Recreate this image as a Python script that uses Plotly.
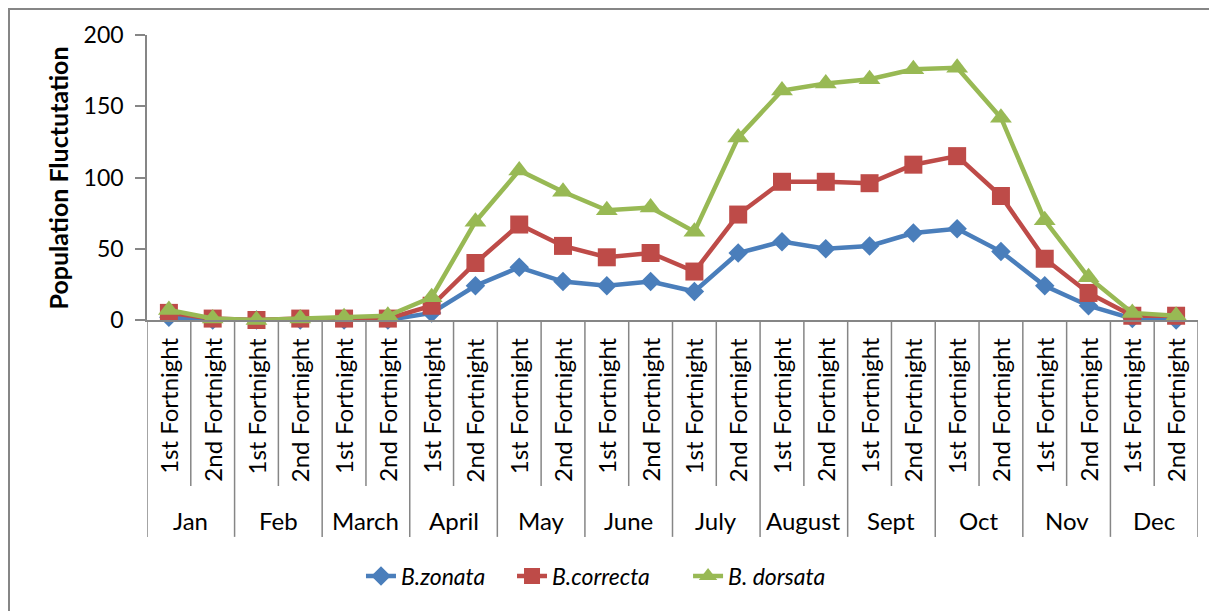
import plotly.graph_objects as go

months = ["Jan", "Feb", "March", "April", "May", "June", "July", "August", "Sept", "Oct", "Nov", "Dec"]
fortnights = ["1st Fortnight", "2nd Fortnight"]

b_zonata = [2, 0, 0, 0, 0, 0, 5, 24, 37, 27, 24, 27, 20, 47, 55, 50, 52, 61, 64, 48, 24, 10, 1, 0]
b_correcta = [5, 1, 0, 1, 1, 1, 10, 40, 67, 52, 44, 47, 34, 74, 97, 97, 96, 109, 115, 87, 43, 19, 3, 3]
b_dorsata = [7, 1, 0, 1, 2, 3, 16, 69, 105, 90, 77, 79, 62, 128, 161, 166, 169, 176, 177, 142, 70, 30, 5, 3]

cats = [f"{m} {f}" for m in months for f in fortnights]
n = len(cats)

FONT = "Lato, Open Sans, sans-serif"
AXC = "#868686"

fig = go.Figure()
series = [
    ("B.zonata", b_zonata, "#4A7EBB", "diamond", 15, "legend", 0.2036),
    ("B.correcta", b_correcta, "#BE4B48", "square", 18, "legend2", 0.3473),
    ("B. dorsata", b_dorsata, "#98B954", "triangle-up", 19, "legend3", 0.5148),
]
legend_cfg = {}
for name, vals, col, sym, sz, leg, lx in series:
    fig.add_trace(go.Scatter(
        x=cats, y=vals, name=name, mode="lines+markers",
        line=dict(color=col, width=4.5),
        marker=dict(symbol=sym, size=sz, color=col),
        cliponaxis=False, legend=leg,
    ))
    legend_cfg[leg] = dict(orientation="h", x=lx, xanchor="left", y=-0.898, yanchor="middle",
                           bgcolor="rgba(0,0,0,0)",
                           font=dict(family=FONT, size=23, style="italic", color="black"))

annotations = []
shapes = []
for i, c in enumerate(cats):
    annotations.append(dict(
        x=c, xref="x", y=-0.056, yref="paper", text=fortnights[i % 2],
        textangle=-90, xanchor="center", yanchor="top", showarrow=False,
        font=dict(family=FONT, size=24, color="black"),
    ))
for k, m in enumerate(months):
    annotations.append(dict(
        x=2 * k + 0.5, xref="x", y=-0.705, yref="paper", text=m,
        xanchor="center", yanchor="middle", showarrow=False,
        font=dict(family=FONT, size=24, color="black"),
    ))
annotations.append(dict(
    x=-0.0847, xref="paper", y=0.5, yref="paper", text="<b>Population Fluctutation</b>",
    textangle=-90, xanchor="center", yanchor="middle", showarrow=False,
    font=dict(family=FONT, size=25, color="black"),
))
for i in range(n + 1):
    y_end = -0.761 if i % 2 == 0 else -0.5825
    shapes.append(dict(type="line", xref="x", yref="paper", x0=i - 0.5, x1=i - 0.5,
                       y0=0, y1=y_end, line=dict(color=AXC, width=1.5)))
shapes.append(dict(type="rect", xref="paper", yref="paper", x0=-0.1313, x1=1.2, y0=-1.3, y1=1.0912,
                   line=dict(color=AXC, width=2)))

fig.update_layout(
    width=1209, height=603,
    margin=dict(l=139, r=19, t=27, b=291),
    paper_bgcolor="white", plot_bgcolor="white",
    font=dict(family=FONT, size=22, color="black"),
    showlegend=True,
    annotations=annotations,
    shapes=shapes,
    **legend_cfg,
)
fig.update_yaxes(
    range=[0, 200], dtick=50, ticks="outside", ticklen=10, tickcolor=AXC, tickwidth=1.5,
    showline=True, linecolor=AXC, linewidth=1.5, showgrid=False, zeroline=False,
    tickfont=dict(family=FONT, size=23, color="black"), ticklabelstandoff=7,
)
fig.update_xaxes(
    type="category", range=[-0.5, n - 0.5], showticklabels=False, ticks="",
    showline=True, linecolor=AXC, linewidth=1.5, showgrid=False,
)

fig.write_html("out.html")
